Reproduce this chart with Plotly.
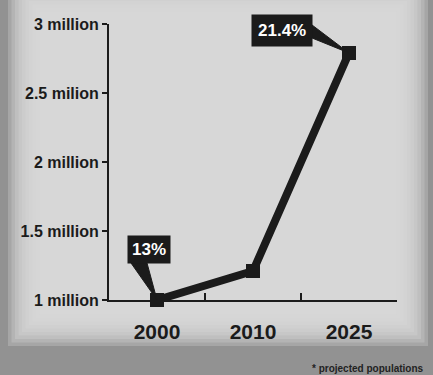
import plotly.graph_objects as go

years = ["2000", "2010", "2025"]
population = [1.0e6, 1.21e6, 2.79e6]
pct_labels = ["13%", "", "21.4%"]
y_tickvals = [1.0e6, 1.5e6, 2.0e6, 2.5e6, 3.0e6]
y_ticktext = ["1 million", "1.5 million", "2 million", "2.5 milion", "3 million"]
footnote = "* projected populations"

W, H = 433, 375
L, R, T, B = 109, 36, 24, 75
PW, PH = W - L - R, H - T - B

def fx(px):
    return (px - L) / PW

def fy(py):
    return (H - B - py) / PH

INK = "#1b1b1b"

fig = go.Figure()
fig.add_trace(go.Scatter(
    x=years, y=population, mode="lines+markers",
    line=dict(color=INK, width=8),
    marker=dict(symbol="square", size=14, color=INK),
    cliponaxis=False, hoverinfo="skip",
))

shapes = []
# vignette background
n = 10
for i in range(n):
    d = i * 3.5
    shapes.append(dict(
        type="rect", xref="paper", yref="paper", layer="below",
        x0=fx(8 + d), x1=fx(428 - d), y0=fy(346 - d), y1=fy(-20 + d),
        fillcolor="#dbdbdb", opacity=0.28, line=dict(width=0),
    ))

# callout wedges (pixel offsets anchored on the data points)
wedges = {0: "M -26 37 L -10 37 L 0 0 Z", 2: "M -37 28 L -37 15 L 0 0 Z"}
for idx, path in wedges.items():
    shapes.append(dict(
        type="path", xref="x", yref="y", xsizemode="pixel", ysizemode="pixel",
        xanchor=idx, yanchor=population[idx], path=path,
        fillcolor=INK, line=dict(color=INK, width=1), layer="above",
    ))

annotations = []
label_style = {0: (-8, 51, 4), 2: (-67, 22, 6)}
for idx, txt in enumerate(pct_labels):
    if not txt:
        continue
    dx, dy, pad = label_style[idx]
    annotations.append(dict(
        x=idx, y=population[idx], xref="x", yref="y",
        xshift=dx, yshift=dy, showarrow=False,
        text=txt, bgcolor=INK, borderpad=pad,
        font=dict(family="Liberation Sans", size=17, color="white", weight="bold"),
    ))

annotations.append(dict(
    xref="paper", yref="paper", x=fx(426), y=fy(368), xanchor="right", yanchor="middle",
    text=footnote, showarrow=False,
    font=dict(family="Liberation Sans Narrow, Liberation Sans", size=10, color="#222", weight="bold"),
))

fig.update_layout(
    width=W, height=H,
    margin=dict(l=L, r=R, t=T, b=B),
    paper_bgcolor="#929292", plot_bgcolor="rgba(0,0,0,0)",
    showlegend=False, shapes=shapes, annotations=annotations,
    font=dict(family="Liberation Sans", color=INK),
)
fig.update_xaxes(
    type="category", range=[-0.5, 2.5],
    showgrid=False, showline=True, linecolor=INK, linewidth=2,
    ticks="inside", tickson="boundaries", ticklen=7, tickwidth=2, tickcolor=INK,
    ticklabelstandoff=12,
    tickfont=dict(family="Liberation Sans", size=21, color=INK, weight="bold"),
    zeroline=False,
)
fig.update_yaxes(
    range=[1.0e6, 3.0e6], tickvals=y_tickvals, ticktext=y_ticktext,
    showgrid=False, showline=True, linecolor=INK, linewidth=2,
    ticks="outside", ticklen=5, tickwidth=2, tickcolor=INK,
    tickfont=dict(family="Liberation Sans", size=16, color=INK, weight="bold"),
    zeroline=False,
)

fig.write_html("out.html")
